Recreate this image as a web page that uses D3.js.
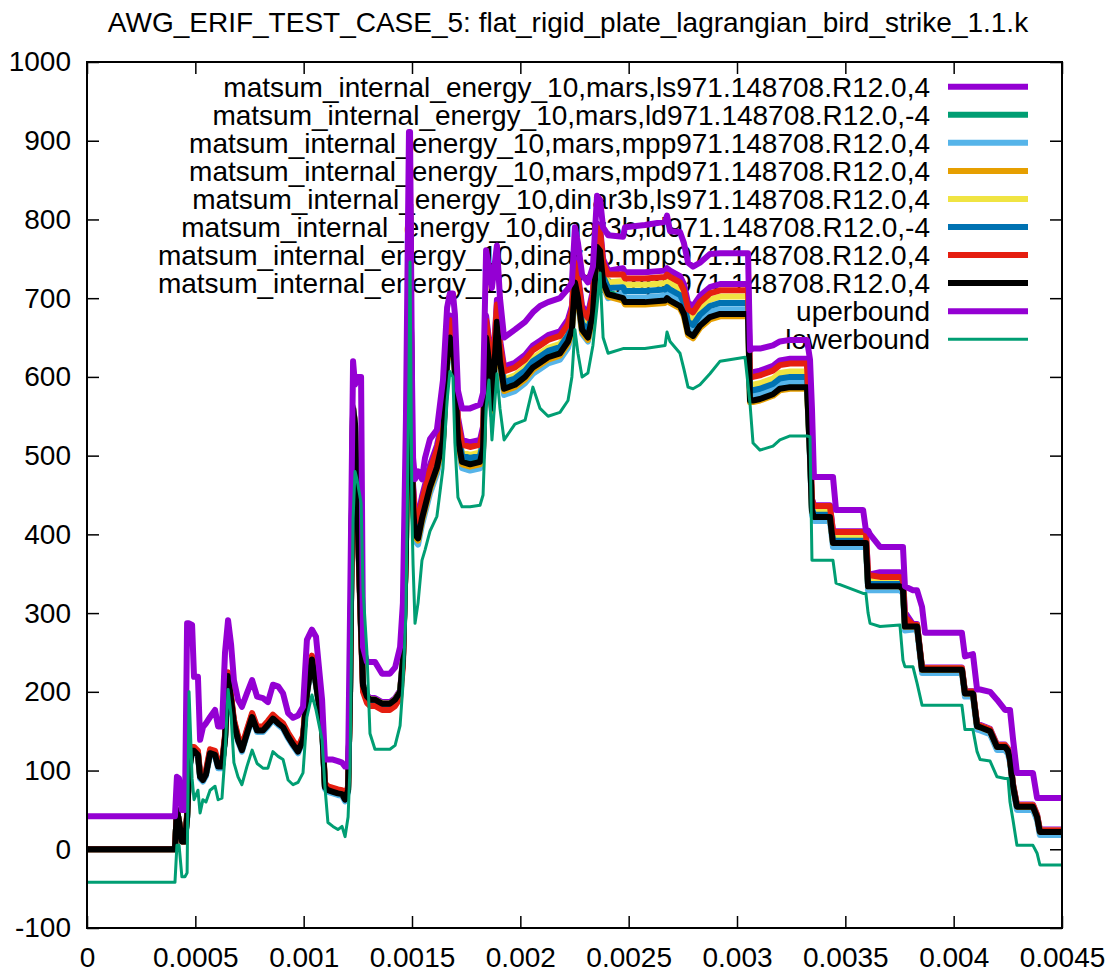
<!DOCTYPE html>
<html>
<head>
<meta charset="utf-8">
<script src="https://cdnjs.cloudflare.com/ajax/libs/d3/7.8.5/d3.min.js"></script>
<style>
  body { margin: 0; background: #fff; }
  svg { display: block; font-family: "Liberation Sans", Arial, sans-serif; }
</style>
</head>
<body>
<div id="chart"></div>
<script>
// sample times (s), shared by every curve
var time = [0, 0.000406, 0.000415, 0.000425, 0.000438, 0.000452, 0.000462, 0.000471, 0.000485, 0.000494,
  0.000512, 0.000522, 0.000535, 0.000549, 0.000568, 0.000591, 0.000605, 0.000623, 0.000637, 0.000651,
  0.000665, 0.000678, 0.000697, 0.000715, 0.000738, 0.000762, 0.000785, 0.000812, 0.000835, 0.000858,
  0.000882, 0.000905, 0.000928, 0.000951, 0.000974, 0.000997, 0.001015, 0.001038, 0.001057, 0.001085,
  0.001098, 0.001112, 0.001135, 0.001158, 0.001177, 0.001191, 0.001205, 0.001214, 0.001228, 0.001237,
  0.001246, 0.001265, 0.001274, 0.001292, 0.001306, 0.001329, 0.001362, 0.001398, 0.001422, 0.001445,
  0.001458, 0.001472, 0.001486, 0.001491, 0.0015, 0.001505, 0.001514, 0.001528, 0.001546, 0.00156,
  0.001583, 0.001615, 0.001643, 0.001662, 0.001675, 0.001689, 0.001698, 0.001712, 0.001731, 0.001768,
  0.001814, 0.001828, 0.001842, 0.001855, 0.001869, 0.001892, 0.001906, 0.001925, 0.001975, 0.002022,
  0.002058, 0.002091, 0.002128, 0.002183, 0.00222, 0.002238, 0.002252, 0.002266, 0.002285, 0.002312,
  0.002335, 0.002354, 0.002368, 0.002382, 0.002405, 0.002474, 0.002483, 0.002575, 0.002668, 0.002677,
  0.002691, 0.002737, 0.002755, 0.002774, 0.002797, 0.002829, 0.002875, 0.002922, 0.003037, 0.003051,
  0.00306, 0.003074, 0.003106, 0.003166, 0.003198, 0.003245, 0.003323, 0.003337, 0.003346, 0.003355,
  0.003429, 0.003443, 0.003457, 0.003582, 0.003595, 0.003605, 0.003614, 0.00366, 0.003752, 0.003766,
  0.003775, 0.003812, 0.003831, 0.003854, 0.003868, 0.004038, 0.004052, 0.004089, 0.004108, 0.004122,
  0.004168, 0.0042, 0.004237, 0.004251, 0.00426, 0.004274, 0.004292, 0.004366, 0.004385, 0.004398, 0.0045];

var marsLs = [0, 0, 50, 35, 10, 10,
  43, 103, 128, 128, 123, 95, 91, 98, 125, 123, 108, 108, 143, 223, 193, 163, 142, 129, 150, 171, 154, 154, 161, 169, 163, 158, 146, 136, 127, 142, 201, 244, 213, 159, 82, 78, 76, 74, 73, 66, 78,
  202, 562, 542, 452, 282, 210, 196, 192, 192, 187, 187, 192, 202, 242,
  380, 800, 820, 500,
  463, 428, 423, 448, 463, 488, 513, 548, 648, 678, 668, 635, 549, 520, 517, 520, 537, 678, 648, 588, 698, 648, 613, 618, 628, 640, 646, 653, 658, 673,
  690, 750, 730, 690, 680, 710, 795, 790, 750, 735,
  738, 733, 733, 735, 738, 735, 728, 718, 694, 690, 703, 714, 718, 718, 718,
  606, 606, 608, 614, 621, 623, 623,
  515, 445, 437, 437, 404, 404, 404, 404, 349, 349,
  352, 352, 348, 301,
  286, 286, 231, 231, 231, 201, 201, 159, 158, 153, 133, 133, 128, 117, 83, 57, 57, 44, 25, 25];

var marsLd = [0, 0, 50, 35, 10, 10,
  41, 101, 126, 126, 121, 93, 89, 96, 123, 121, 106, 106, 141, 221, 191, 161, 140, 127, 148, 169, 152, 152, 159, 167, 161, 156, 144, 134, 125, 140, 199, 242, 211, 157, 80, 76, 74, 72, 71, 64, 76,
  200, 560, 540, 450, 280, 208, 194, 190, 190, 185, 185, 190, 200, 240,
  380, 800, 820, 500,
  437, 402, 397, 422, 437, 462, 487, 522, 622, 652, 642, 609, 523, 494, 491, 494, 511, 652, 622, 562, 672, 622, 587, 592, 602, 614, 620, 627, 632, 647,
  662, 722, 702, 662, 652, 682, 767, 762, 722, 707,
  702, 697, 697, 699, 702, 699, 692, 682, 658, 654, 667, 678, 682, 682, 682,
  572, 572, 574, 580, 587, 589, 589,
  500, 430, 422, 422, 389, 389, 389, 389, 334, 334,
  334, 334, 330, 283,
  283, 283, 228, 228, 228, 198, 198, 156, 155, 150, 130, 130, 125, 114, 80, 54, 54, 41, 22, 22];

var marsMpp = [0, 0, 50, 35, 10, 10,
  38, 98, 123, 123, 118, 90, 86, 93, 120, 118, 103, 103, 138, 218, 188, 158, 137, 124, 145, 166, 149, 149, 156, 164, 158, 153, 141, 131, 122, 137, 196, 239, 208, 154, 77, 73, 71, 69, 68, 61, 73,
  197, 557, 537, 447, 277, 205, 191, 187, 187, 182, 182, 187, 197, 237,
  380, 800, 820, 500,
  427, 392, 387, 412, 427, 452, 477, 512, 612, 642, 632, 599, 513, 484, 481, 484, 501, 642, 612, 552, 662, 612, 577, 582, 592, 604, 610, 617, 622, 637,
  655, 715, 695, 655, 645, 675, 760, 755, 715, 700,
  706, 701, 701, 703, 706, 703, 696, 686, 662, 658, 671, 682, 686, 686, 686,
  577, 577, 579, 585, 592, 594, 594,
  495, 425, 417, 417, 384, 384, 384, 384, 329, 329,
  329, 329, 325, 278,
  279, 279, 224, 224, 224, 194, 194, 152, 151, 146, 126, 126, 121, 110, 76, 50, 50, 37, 18, 18];

var marsMpd = [0, 0, 50, 35, 10, 10,
  41, 101, 126, 126, 121, 93, 89, 96, 123, 121, 106, 106, 141, 221, 191, 161, 140, 127, 148, 169, 152, 152, 159, 167, 161, 156, 144, 134, 125, 140, 199, 242, 211, 157, 80, 76, 74, 72, 71, 64, 76,
  200, 560, 540, 450, 280, 208, 194, 190, 190, 185, 185, 190, 200, 240,
  380, 800, 820, 500,
  432, 397, 392, 417, 432, 457, 482, 517, 617, 647, 637, 604, 518, 489, 486, 489, 506, 647, 617, 557, 667, 617, 582, 587, 597, 609, 615, 622, 627, 642,
  657, 717, 697, 657, 647, 677, 762, 757, 717, 702,
  697, 692, 692, 694, 697, 694, 687, 677, 653, 649, 662, 673, 677, 677, 677,
  568, 568, 570, 576, 583, 585, 585,
  500, 430, 422, 422, 389, 389, 389, 389, 334, 334,
  334, 334, 330, 283,
  283, 283, 228, 228, 228, 198, 198, 156, 155, 150, 130, 130, 125, 114, 80, 54, 54, 41, 22, 22];

var dinarLs = [0, 0, 50, 35, 10, 10,
  42, 102, 127, 127, 122, 94, 90, 97, 124, 122, 107, 107, 142, 222, 192, 162, 141, 128, 149, 170, 153, 153, 160, 168, 162, 157, 145, 135, 126, 141, 200, 243, 212, 158, 81, 77, 75, 73, 72, 65, 77,
  200, 560, 540, 450, 280, 208, 194, 190, 190, 185, 185, 190, 200, 240,
  380, 800, 820, 500,
  447, 412, 407, 432, 447, 472, 497, 532, 632, 662, 652, 619, 533, 504, 501, 504, 521, 662, 632, 572, 682, 632, 597, 602, 612, 624, 630, 637, 642, 657,
  675, 735, 715, 675, 665, 695, 780, 775, 735, 720,
  722, 717, 717, 719, 722, 719, 712, 702, 678, 674, 687, 698, 702, 702, 702,
  590, 590, 592, 598, 605, 607, 607,
  508, 438, 430, 430, 397, 397, 397, 397, 342, 342,
  339, 339, 335, 288,
  285, 285, 230, 230, 230, 200, 200, 158, 157, 152, 132, 132, 127, 116, 82, 56, 56, 43, 24, 24];

var dinarLd = [0, 0, 50, 35, 10, 10,
  41, 101, 126, 126, 121, 93, 89, 96, 123, 121, 106, 106, 141, 221, 191, 161, 140, 127, 148, 169, 152, 152, 159, 167, 161, 156, 144, 134, 125, 140, 199, 242, 211, 157, 80, 76, 74, 72, 71, 64, 76,
  198, 558, 538, 448, 278, 206, 192, 188, 188, 183, 183, 188, 198, 238,
  380, 800, 820, 500,
  443, 408, 403, 428, 443, 468, 493, 528, 628, 658, 648, 615, 529, 500, 497, 500, 517, 658, 628, 568, 678, 628, 593, 598, 608, 620, 626, 633, 638, 653,
  668, 728, 708, 668, 658, 688, 773, 768, 728, 713,
  714, 709, 709, 711, 714, 711, 704, 694, 670, 666, 679, 690, 694, 694, 694,
  583, 583, 585, 591, 598, 600, 600,
  503, 433, 425, 425, 392, 392, 392, 392, 337, 337,
  337, 337, 333, 286,
  284, 284, 229, 229, 229, 199, 199, 157, 156, 151, 131, 131, 126, 115, 81, 55, 55, 42, 23, 23];

var dinarMpp = [0, 0, 50, 35, 10, 10,
  45, 105, 130, 130, 125, 97, 93, 100, 127, 125, 110, 110, 145, 225, 195, 165, 144, 131, 152, 173, 156, 156, 163, 171, 165, 160, 148, 138, 129, 144, 203, 246, 215, 161, 84, 80, 78, 76, 75, 68, 80,
  192, 552, 532, 442, 272, 200, 186, 182, 182, 177, 177, 182, 192, 232,
  380, 800, 820, 500,
  457, 422, 417, 442, 457, 482, 507, 542, 642, 672, 662, 629, 543, 514, 511, 514, 531, 672, 642, 582, 692, 642, 607, 612, 622, 634, 640, 647, 652, 667,
  685, 745, 725, 685, 675, 705, 790, 785, 745, 730,
  730, 725, 725, 727, 730, 727, 720, 710, 686, 682, 695, 706, 710, 710, 710,
  600, 600, 602, 608, 615, 617, 617,
  514, 444, 436, 436, 403, 403, 403, 403, 348, 348,
  346, 346, 342, 295,
  285, 285, 230, 230, 230, 200, 200, 158, 157, 152, 132, 132, 127, 116, 82, 56, 56, 43, 24, 24];

var dinarMpd = [0, 0, 50, 35, 10, 10,
  40, 100, 125, 125, 120, 92, 88, 95, 122, 120, 105, 105, 140, 220, 190, 160, 139, 126, 147, 168, 151, 151, 158, 166, 160, 155, 143, 133, 124, 139, 198, 241, 210, 156, 79, 75, 73, 71, 70, 63, 75,
  200, 560, 540, 450, 280, 208, 194, 190, 190, 185, 185, 190, 200, 240,
  380, 800, 820, 500,
  435, 400, 395, 420, 435, 460, 485, 520, 620, 650, 640, 607, 521, 492, 489, 492, 509, 650, 620, 560, 670, 620, 585, 590, 600, 612, 618, 625, 630, 645,
  660, 720, 700, 660, 650, 680, 765, 760, 720, 705,
  700, 695, 695, 697, 700, 697, 690, 680, 656, 652, 665, 676, 680, 680, 680,
  570, 570, 572, 578, 585, 587, 587,
  500, 430, 422, 422, 389, 389, 389, 389, 334, 334,
  334, 334, 330, 283,
  283, 283, 228, 228, 228, 198, 198, 156, 155, 150, 130, 130, 125, 114, 80, 54, 54, 41, 22, 22];

var upperBound = [42, 42, 92, 90, 50, 50,
  287, 287, 285, 219, 219, 139, 155, 160, 168, 177, 156, 156, 250, 291, 260, 215, 190, 181, 198, 215, 194, 192, 187, 209, 207, 198, 173, 167, 170, 181, 266, 279, 270, 190, 114, 114, 114, 112, 110, 105, 105,
  300, 620, 590, 600, 600, 257, 238, 238, 238, 223, 223, 231, 257, 313,
  546, 911, 911, 600,
  497, 470, 480, 470, 497, 521, 533, 596, 688, 706, 706, 680, 583, 560, 560, 565, 580, 761, 740, 713, 767, 700, 650, 660, 670, 682, 690, 695, 700, 712,
  720, 790, 770, 730, 720, 740, 830, 825, 790, 780,
  778, 790, 793, 797, 805, 785, 784, 770, 745, 740, 745, 756, 757, 757, 757,
  634, 636, 636, 640, 645, 647, 647,
  622, 560, 473, 473, 473, 431, 431, 405, 405, 400,
  384, 384, 384, 334,
  329, 329, 308, 275, 275, 245, 248, 203, 203, 200, 190, 177, 177, 177, 140, 97, 97, 65, 65, 65];

var lowerBound = [-42, -42, 5, 5, -35, -35,
  -30, 200, 90, 63, 75, 46, 63, 60, 75, 80, 63, 65, 120, 203, 170, 110, 92, 82, 105, 126, 109, 103, 103, 124, 118, 114, 88, 82, 85, 97, 168, 196, 177, 139, 80, 34, 29, 25, 29, 16, 41,
  105, 420, 480, 470, 440, 331, 250, 147, 127, 127, 127, 132, 157, 208,
  300, 600, 746, 420,
  361, 287, 313, 367, 380, 404, 423, 484, 570, 607, 600, 516, 447, 435, 435, 437, 450, 560, 596, 520, 604, 560, 520, 540, 545, 587, 560, 550, 555, 570,
  600, 660, 630, 600, 605, 640, 690, 732, 650, 630,
  636, 636, 636, 640, 657, 645, 630, 610, 587, 585, 590, 604, 620, 625, 590,
  566, 516, 507, 512, 520, 525, 525,
  524, 367, 367, 367, 367, 338, 325, 325, 300, 287,
  283, 285, 240, 232,
  232, 211, 183, 183, 183, 152, 152, 124, 114, 112, 92, 90, 90, 60, 37, 5, 5, -5, -20, -20];

var seriesNames = [
  "matsum_internal_energy_10,mars,ls971.148708.R12.0,4",
  "matsum_internal_energy_10,mars,ld971.148708.R12.0,-4",
  "matsum_internal_energy_10,mars,mpp971.148708.R12.0,4",
  "matsum_internal_energy_10,mars,mpd971.148708.R12.0,4",
  "matsum_internal_energy_10,dinar3b,ls971.148708.R12.0,4",
  "matsum_internal_energy_10,dinar3b,ld971.148708.R12.0,-4",
  "matsum_internal_energy_10,dinar3b,mpp971.148708.R12.0,4",
  "matsum_internal_energy_10,dinar3b,mpd971.148708.R12.0,4",
  "uperbound",
  "lowerbound"
];
var seriesValues = [marsLs, marsLd, marsMpp, marsMpd, dinarLs, dinarLd, dinarMpp, dinarMpd, upperBound, lowerBound];
var seriesColors = ["#9400d3", "#009e73", "#56b4e9", "#e69f00", "#f0e442", "#0072b2", "#e51e10", "#000000", "#9400d3", "#009e73"];
var seriesWidths = [6, 6, 6, 6, 6, 6, 6, 6, 6, 3];

var xTicks = [0, 0.0005, 0.001, 0.0015, 0.002, 0.0025, 0.003, 0.0035, 0.004, 0.0045];
var xTickLabels = ["0", "0.0005", "0.001", "0.0015", "0.002", "0.0025", "0.003", "0.0035", "0.004", "0.0045"];
var yTicks = [-100, 0, 100, 200, 300, 400, 500, 600, 700, 800, 900, 1000];
var yTickLabels = ["-100", "0", "100", "200", "300", "400", "500", "600", "700", "800", "900", "1000"];

var title = "AWG_ERIF_TEST_CASE_5: flat_rigid_plate_lagrangian_bird_strike_1.1.k";

var w = 1113, h = 972;
var plotL = 87, plotR = 1062, plotT = 62, plotB = 928;
var fs = 28;

var x = d3.scaleLinear().domain([0, 0.0045]).range([plotL, plotR]);
var y = d3.scaleLinear().domain([-100, 1000]).range([plotB, plotT]);

var svg = d3.select("#chart").append("svg")
    .attr("width", w)
    .attr("height", h);

svg.append("rect").attr("width", w).attr("height", h).style("fill", "#fff");

svg.append("text")
    .attr("x", 568)
    .attr("y", 32)
    .attr("text-anchor", "middle")
    .style("font-size", fs + "px")
    .text(title);

// key first, curves go over it like in gnuplot
var series = seriesNames.map(function(name, i) {
    return { name: name, values: seriesValues[i], color: seriesColors[i], width: seriesWidths[i] };
});

var keyY = function(i) { return 86.7 + i * 28.06; };

var key = svg.append("g").attr("class", "key");
key.selectAll("text")
    .data(series)
    .enter()
    .append("text")
    .attr("x", 930)
    .attr("y", function(d, i) { return keyY(i) + 0.35 * fs; })
    .attr("text-anchor", "end")
    .style("font-size", fs + "px")
    .text(function(d) { return d.name; });

key.selectAll("line")
    .data(series)
    .enter()
    .append("line")
    .attr("x1", 948)
    .attr("x2", 1028)
    .attr("y1", function(d, i) { return keyY(i); })
    .attr("y2", function(d, i) { return keyY(i); })
    .style("stroke", function(d) { return d.color; })
    .style("stroke-width", function(d) { return d.width; });

svg.append("clipPath").attr("id", "plot-clip")
    .append("rect")
    .attr("x", plotL).attr("y", plotT)
    .attr("width", plotR - plotL).attr("height", plotB - plotT);

var line = d3.line()
    .x(function(d, i) { return x(time[i]); })
    .y(function(d) { return y(d); });

svg.append("g")
    .attr("clip-path", "url(#plot-clip)")
    .selectAll("path")
    .data(series)
    .enter()
    .append("path")
    .attr("d", function(d) { return line(d.values); })
    .style("fill", "none")
    .style("stroke", function(d) { return d.color; })
    .style("stroke-width", function(d) { return d.width; })
    .style("stroke-linejoin", "round");

// axes: ticks pointing inward, mirrored on top/right
var tick = 12;
var fmtX = function(d, i) { return xTickLabels[i]; };
var fmtY = function(d, i) { return yTickLabels[i]; };

var gx = svg.append("g").attr("transform", "translate(0," + plotB + ")")
    .call(d3.axisBottom(x).tickValues(xTicks).tickFormat(fmtX).tickSize(-tick).tickPadding(19));
var gy = svg.append("g").attr("transform", "translate(" + plotL + ",0)")
    .call(d3.axisLeft(y).tickValues(yTicks).tickFormat(fmtY).tickSize(-tick).tickPadding(16));
var gt = svg.append("g").attr("transform", "translate(0," + plotT + ")")
    .call(d3.axisTop(x).tickValues(xTicks).tickFormat("").tickSize(-tick));
var gr = svg.append("g").attr("transform", "translate(" + plotR + ",0)")
    .call(d3.axisRight(y).tickValues(yTicks).tickFormat("").tickSize(-tick));

[gx, gy, gt, gr].forEach(function(g) {
    g.select(".domain").remove();
    g.selectAll("line").style("stroke", "#000").style("stroke-width", 1.5);
    g.selectAll("text")
        .style("font-size", fs + "px")
        .style("font-family", "'Liberation Sans', Arial, sans-serif")
        .style("fill", "#000");
});

svg.append("rect")
    .attr("x", plotL).attr("y", plotT)
    .attr("width", plotR - plotL).attr("height", plotB - plotT)
    .style("fill", "none")
    .style("stroke", "#000")
    .style("stroke-width", 2);
</script>
</body>
</html>
